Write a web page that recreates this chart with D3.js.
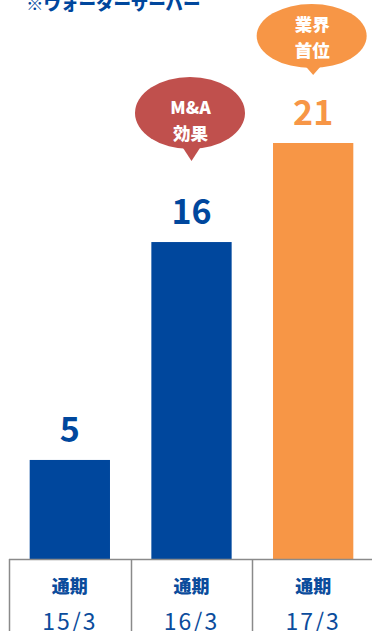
<!DOCTYPE html>
<html>
<head>
<meta charset="utf-8">
<script src="https://cdn.jsdelivr.net/npm/d3@7"></script>
<style>
  html, body { margin: 0; padding: 0; background: #fff; }
  svg { display: block; }
  text { font-family: "Noto Sans CJK JP", "Noto Sans", sans-serif; }
</style>
</head>
<body>
<script>
// Data
const periods = ["15/3", "16/3", "17/3"];
const periodPrefix = ["通期", "通期", "通期"];
const values = [5, 16, 21];
const barColors = ["#00479D", "#00479D", "#F79646"];
const callouts = [
  { index: 1, lines: ["M&A", "効果"], color: "#C0504D" },
  { index: 2, lines: ["業界", "首位"], color: "#F79646" }
];
const title = "※ウォーターサーバー";

const W = 372, H = 631;
const svg = d3.select("body").append("svg").attr("width", W).attr("height", H);

const baseY = 559;
const x = d3.scaleBand().domain(periods).range([9, 374]).paddingInner(0.34).paddingOuter(0.17);
const y = d3.scaleLinear().domain([0, 21]).range([baseY, 143]);
const numFont = "'Liberation Sans', Arial, sans-serif";
const narrowFont = "'Liberation Sans Narrow', 'Liberation Sans', Arial, sans-serif";

// Title
svg.append("text")
  .attr("x", 26).attr("y", 10)
  .attr("font-size", 17.5).attr("font-weight", 900)
  .attr("fill", "#00479D")
  .text(title);

// Bars
svg.selectAll("rect.bar").data(values).join("rect")
  .attr("class", "bar")
  .attr("x", (d, i) => x(periods[i]))
  .attr("width", x.bandwidth())
  .attr("y", d => y(d))
  .attr("height", d => baseY - y(d))
  .attr("fill", (d, i) => barColors[i]);

// Value labels
svg.selectAll("text.val").data(values).join("text")
  .attr("class", "val")
  .attr("x", (d, i) => x(periods[i]) + x.bandwidth() / 2)
  .attr("y", d => y(d) - 18)
  .attr("text-anchor", "middle")
  .attr("font-family", numFont)
  .attr("font-size", 34).attr("font-weight", 700)
  .attr("fill", (d, i) => barColors[i])
  .text(d => d);

// Category table below the baseline
const cellEdges = [9, 131, 252];
svg.append("line")
  .attr("x1", 9).attr("x2", W).attr("y1", baseY + 0.5).attr("y2", baseY + 0.5)
  .attr("stroke", "#8a8a8a").attr("stroke-width", 1.5);
svg.selectAll("line.div").data(cellEdges).join("line")
  .attr("class", "div")
  .attr("x1", d => d + 0.5).attr("x2", d => d + 0.5)
  .attr("y1", baseY).attr("y2", H)
  .attr("stroke", "#8a8a8a").attr("stroke-width", 1.5);

const cx = (i) => x(periods[i]) + x.bandwidth() / 2;
svg.selectAll("text.pre").data(periodPrefix).join("text")
  .attr("class", "pre")
  .attr("x", (d, i) => cx(i)).attr("y", 593)
  .attr("text-anchor", "middle")
  .attr("font-size", 18).attr("font-weight", 900)
  .attr("fill", "#0B4C9C")
  .text(d => d);
svg.selectAll("text.per").data(periods).join("text")
  .attr("class", "per")
  .attr("x", (d, i) => cx(i)).attr("y", 630)
  .attr("text-anchor", "middle")
  .attr("font-family", narrowFont)
  .attr("font-size", 23).attr("font-weight", 400)
  .attr("letter-spacing", 2)
  .attr("fill", "#0B4C9C")
  .text(d => d);

// Speech bubbles above bars: gap from bar top to tail tip, ellipse offset and size
const bubbleShape = [
  { gap: 81, rise: 48, rx: 55, ry: 36, textDy: 1 },
  { gap: 68, rise: 39, rx: 55, ry: 32, textDy: -5 }
];
callouts.forEach((c, j) => {
  const s = bubbleShape[j];
  const bx = cx(c.index);
  const tipY = y(values[c.index]) - s.gap;
  const cy = tipY - s.rise;
  const g = svg.append("g");
  g.append("ellipse")
    .attr("cx", bx - 1.5).attr("cy", cy).attr("rx", s.rx).attr("ry", s.ry)
    .attr("fill", c.color);
  g.append("path")
    .attr("d", `M${bx - 13},${cy + s.ry - 8} L${bx},${tipY} L${bx + 13},${cy + s.ry - 8} Z`)
    .attr("fill", c.color);
  c.lines.forEach((t, k) => {
    g.append("text")
      .attr("x", bx - 1).attr("y", cy + s.textDy + k * 25.5)
      .attr("text-anchor", "middle")
      .attr("font-size", 17.5).attr("font-weight", 900)
      .attr("fill", "#fff")
      .text(t);
  });
});
</script>
</body>
</html>
